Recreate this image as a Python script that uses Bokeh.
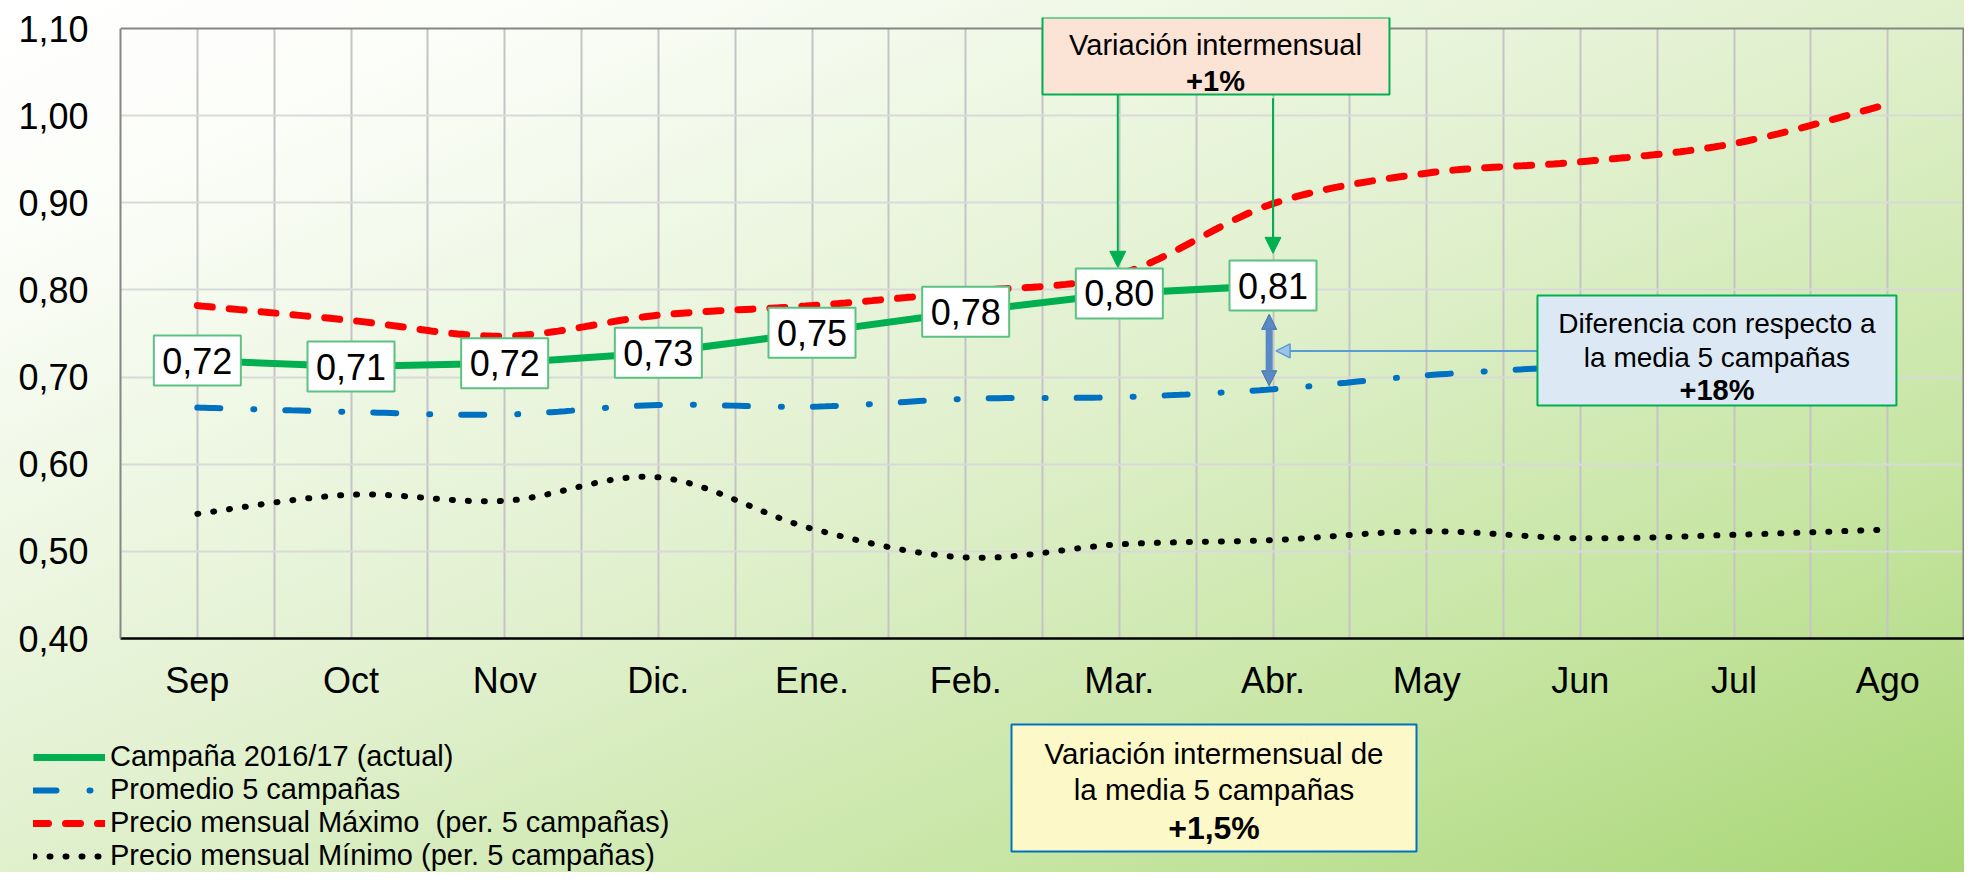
import numpy as np
from bokeh.plotting import figure
from bokeh.layouts import column
from bokeh.models import (Range1d, FixedTicker, Legend, LegendItem, Label,
                          BoxAnnotation, Arrow, NormalHead, Grid, Plot)
from bokeh.core.properties import value
from bokeh.embed import file_html
from bokeh.resources import INLINE

# ---------------- data ----------------
MONTHS = ["Sep", "Oct", "Nov", "Dic.", "Ene.", "Feb.", "Mar.", "Abr.",
          "May", "Jun", "Jul", "Ago"]
CAMPANA = [0.719, 0.712, 0.716, 0.728, 0.751, 0.775, 0.796, 0.805]
CAMPANA_LABELS = ["0,72", "0,71", "0,72", "0,73", "0,75", "0,78", "0,80", "0,81"]
PROMEDIO = [0.665, 0.660, 0.657, 0.668, 0.666, 0.675, 0.677, 0.686,
            0.702, 0.712, 0.716, 0.722]
MAXIMO = [0.782, 0.765, 0.747, 0.771, 0.782, 0.798, 0.818, 0.899,
          0.934, 0.947, 0.968, 1.013]
MINIMO = [0.543, 0.565, 0.558, 0.585, 0.526, 0.493, 0.508, 0.513,
          0.523, 0.515, 0.519, 0.525]
Y_TICKS = [0.4, 0.5, 0.6, 0.7, 0.8, 0.9, 1.0, 1.1]
Y_TICK_LABELS = ["0,40", "0,50", "0,60", "0,70", "0,80", "0,90", "1,00", "1,10"]
LEGEND_LABELS = ["Campaña 2016/17 (actual)", "Promedio 5 campañas",
                 "Precio mensual Máximo  (per. 5 campañas)",
                 "Precio mensual Mínimo (per. 5 campañas)"]

FONT = "Liberation Sans"
GREEN = "#00b050"
BLUE = "#0070c0"
RED = "#ff0000"
BORDER = "#868686"
GRADIENT = ("linear-gradient(to bottom right, #ffffff 0%, #fbfdf8 14%, #e0f0cd 50%, "
            "#c6e5a2 76%, #a8d676 100%)")

STYLE_CAMP = dict(line_color=GREEN, line_width=7, line_join="round")
STYLE_PROM = dict(line_color=BLUE, line_width=6, line_dash="23 33 1 31", line_cap="round")
STYLE_MAX = dict(line_color=RED, line_width=7, line_dash="15 17", line_cap="round")
STYLE_MIN = dict(line_color="black", line_width=6, line_dash="1 15", line_cap="round")


def smooth(ys, n=24):
    """Excel-style smoothed line (cubic Bezier through the points)."""
    P = np.column_stack([np.arange(len(ys), dtype=float), np.asarray(ys, float)])
    m = len(P)
    out = [P[0]]
    t = np.linspace(0, 1, n)[1:, None]
    for i in range(m - 1):
        p0 = P[i - 1] if i > 0 else P[i]
        p1, p2 = P[i], P[i + 1]
        p3 = P[i + 2] if i + 2 < m else P[i + 1]
        c1 = p1 + (p2 - p0) / 6.0
        c2 = p2 - (p3 - p1) / 6.0
        b = ((1 - t) ** 3) * p1 + 3 * ((1 - t) ** 2) * t * c1 + 3 * (1 - t) * t ** 2 * c2 + t ** 3 * p2
        out.extend(b)
    out = np.array(out)
    return out[:, 0], out[:, 1]


HAS_CB = "cross_bounds" in Grid.properties()
HAS_FA = "frame_align" in Plot.properties()
W = 1964
PX_PER_Y = 610 / 0.7
if HAS_CB:
    TOP_BORDER = 17
    Y_TOP = 0.4 + (638 - 17) / PX_PER_Y
else:
    TOP_BORDER = 28
    Y_TOP = 1.1

p = figure(width=W, height=712, x_range=Range1d(-0.5, 11.5), y_range=Range1d(0.4, Y_TOP),
           output_backend="svg", toolbar_location=None,
           min_border_left=120, min_border_right=0, min_border_top=TOP_BORDER, min_border_bottom=74)
p.background_fill_color = None
p.border_fill_color = None
if HAS_FA:
    p.frame_align = False

# axes
p.xaxis.ticker = FixedTicker(ticks=list(range(len(MONTHS))))
p.xaxis.major_label_overrides = {i: m for i, m in enumerate(MONTHS)}
p.yaxis.ticker = FixedTicker(ticks=Y_TICKS)
p.yaxis.major_label_overrides = {t: l for t, l in zip(Y_TICKS, Y_TICK_LABELS)}
for ax in (p.xaxis, p.yaxis):
    ax.major_tick_in = 0
    ax.major_tick_out = 0
    ax.minor_tick_in = 0
    ax.minor_tick_out = 0
    ax.major_label_text_font = FONT
    ax.major_label_text_font_size = "36px"
    ax.major_label_text_color = "black"
p.xaxis.axis_line_color = "black"
p.xaxis.axis_line_width = 2.5
p.xaxis.major_label_standoff = 21
p.yaxis.axis_line_color = BORDER
p.yaxis.axis_line_width = 2
p.yaxis.major_label_standoff = 32

p.xgrid.ticker = FixedTicker(ticks=[0.5 * k for k in range(23)])
p.xgrid.grid_line_color = "#c4c4c4"
p.xgrid.grid_line_width = 2
p.ygrid.grid_line_color = "#d9d9d9"
p.ygrid.grid_line_width = 2

if HAS_CB:
    p.outline_line_color = None
    p.yaxis.bounds = (0.4, 1.1)
    p.ygrid.ticker = FixedTicker(ticks=Y_TICKS[1:-1])
    p.xgrid.cross_bounds = (0.4, 1.1)
    p.ygrid.cross_bounds = (-0.5, 11.5)
    p.add_layout(Grid(dimension=1, ticker=FixedTicker(ticks=[1.1]), grid_line_color=BORDER,
                      grid_line_width=2, cross_bounds=(-0.5, 11.5)))
    p.add_layout(Grid(dimension=0, ticker=FixedTicker(ticks=[11.494]), grid_line_color=BORDER,
                      grid_line_width=2, cross_bounds=(0.4, 1.1)))
else:
    p.outline_line_color = BORDER
    p.outline_line_width = 2
    p.ygrid.ticker = FixedTicker(ticks=Y_TICKS[1:])

# series
xs, ys = smooth(MINIMO)
p.line(xs, ys, **STYLE_MIN)
xs, ys = smooth(PROMEDIO)
p.line(xs, ys, **STYLE_PROM)
xs, ys = smooth(MAXIMO)
p.line(xs, ys, **STYLE_MAX)
p.line(list(range(len(CAMPANA))), CAMPANA, **STYLE_CAMP)

# arrows
p.add_layout(Arrow(end=NormalHead(size=16, fill_color=GREEN, line_color=GREEN, line_width=1),
                   x_start=5.99, y_start=1.024, x_end=5.99, y_end=0.826,
                   line_color=GREEN, line_width=2))
p.add_layout(Arrow(end=NormalHead(size=16, fill_color=GREEN, line_color=GREEN, line_width=1),
                   x_start=7.0, y_start=1.02, x_end=7.0, y_end=0.842,
                   line_color=GREEN, line_width=2))
p.add_layout(Arrow(start=NormalHead(size=15, fill_color="#5a8ac6", line_color="#41719c"),
                   end=NormalHead(size=15, fill_color="#5a8ac6", line_color="#41719c"),
                   x_start=6.975, y_start=0.69, x_end=6.975, y_end=0.772,
                   line_color="#5a8ac6", line_width=7))
p.add_layout(Arrow(end=NormalHead(size=14, fill_color="#9dc3e6", line_color="#5b9bd5", line_width=1.5),
                   x_start=8.72, y_start=0.730, x_end=7.02, y_end=0.730,
                   line_color="#5b9bd5", line_width=2))

# data label boxes
idx = list(range(len(CAMPANA)))
p.rect(idx, CAMPANA, width=87, height=50, width_units="screen", height_units="screen",
       fill_color="white", line_color="#5cc184", line_width=2)
p.text(idx, CAMPANA, text=CAMPANA_LABELS, text_align="center", text_baseline="middle",
       text_font=value(FONT), text_font_size="36px", text_color="black")

# annotation boxes
p.add_layout(BoxAnnotation(left=5.50, right=7.758, top=1.1127, bottom=1.0243,
                           fill_color="#fbe4d6", fill_alpha=1, line_color=GREEN, line_width=2,
                           line_alpha=1, level="annotation"))
p.add_layout(Label(x=6.626, y=1.0805, text="Variación intermensual", text_align="center",
                   text_baseline="middle", text_font=FONT, text_font_size="29px", text_color="black"))
p.add_layout(Label(x=6.626, y=1.0403, text="+1%", text_align="center", text_baseline="middle",
                   text_font=FONT, text_font_size="29px", text_font_style="bold", text_color="black"))

p.add_layout(BoxAnnotation(left=8.721, right=11.057, top=0.7936, bottom=0.6674,
                           fill_color="#dce9f5", fill_alpha=1, line_color=GREEN, line_width=2,
                           line_alpha=1, level="annotation"))
for yy, tx, st, fs in [(0.7615, "Diferencia con respecto a", "normal", "28px"),
                       (0.7225, "la media 5 campañas", "normal", "28px"),
                       (0.6846, "+18%", "bold", "29px")]:
    p.add_layout(Label(x=9.889, y=yy, text=tx, text_align="center", text_baseline="middle",
                       text_font=FONT, text_font_size=fs, text_font_style=st, text_color="black"))

# ---------------- lower strip: legend + note box ----------------
H2 = 160
q = figure(width=W, height=H2, x_range=Range1d(0, W), y_range=Range1d(H2, 0),
           output_backend="svg", toolbar_location=None, min_border=0,
           x_axis_type=None, y_axis_type=None)
q.background_fill_color = None
q.border_fill_color = None
q.outline_line_color = None
q.grid.visible = False
if HAS_FA:
    q.frame_align = False

# legend proxies (hidden, same styles as the series above)
proxies = [q.line(list(range(len(s))), s, visible=False, **st)
           for s, st in ((CAMPANA, STYLE_CAMP), (PROMEDIO, STYLE_PROM),
                         (MAXIMO, STYLE_MAX), (MINIMO, STYLE_MIN))]
legend = Legend(items=[LegendItem(label=lab, renderers=[r]) for lab, r in zip(LEGEND_LABELS, proxies)],
                location=(33, 0), orientation="vertical",
                background_fill_alpha=0, border_line_color=None, padding=0, margin=0,
                spacing=-4, glyph_width=72, glyph_height=20, label_standoff=5,
                label_text_font=FONT, label_text_font_size="29px", label_height=31,
                label_text_color="black", inactive_fill_alpha=0)
q.add_layout(legend, "center")

q.add_layout(BoxAnnotation(left=1011, right=1416, top=12, bottom=139,
                           fill_color="#fcf8c8", fill_alpha=1, line_color=BLUE, line_width=2,
                           line_alpha=1))
for yy, tx, st, fs in [(41, "Variación intermensual de", "normal", "29.5px"),
                       (77, "la media 5 campañas", "normal", "29.5px"),
                       (115, "+1,5%", "bold", "32px")]:
    q.add_layout(Label(x=1213.5, y=yy, text=tx, text_align="center", text_baseline="middle",
                       text_font=FONT, text_font_size=fs, text_font_style=st, text_color="black"))

page = column(p, q, spacing=0, styles={"background": GRADIENT})
open("out.html", "w").write(file_html(page, INLINE))
